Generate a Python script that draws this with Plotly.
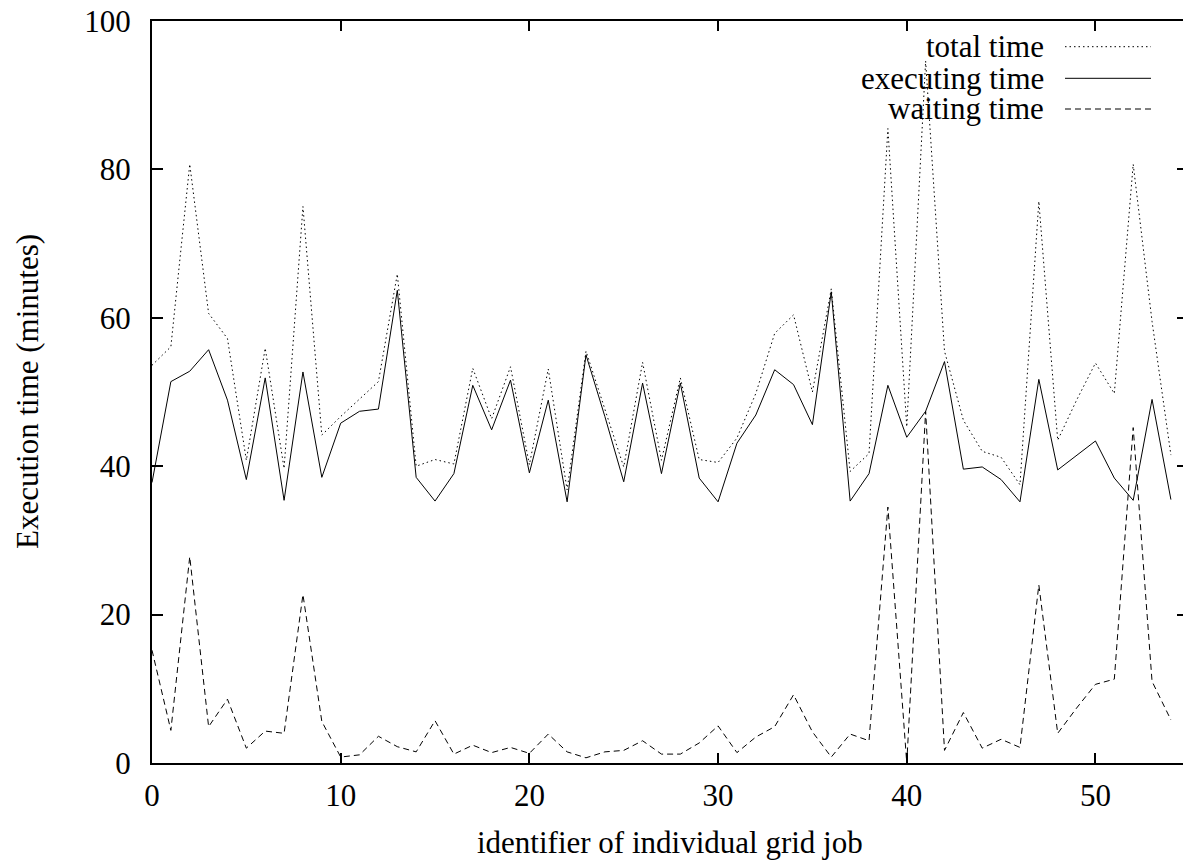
import plotly.graph_objects as go

job_ids = list(range(55))

total_time = [53.6, 56.1, 80.7, 60.6, 57.2, 40.8, 55.9, 39.7, 75.0, 44.2,
              46.7, 49.1, 51.4, 65.9, 40.0, 40.9, 40.3, 53.2, 46.4, 53.4,
              40.2, 53.1, 36.8, 55.5, 47.6, 39.9, 54.0, 40.8, 51.9, 40.9,
              40.5, 43.8, 49.8, 57.9, 60.4, 50.0, 63.9, 39.3, 41.7, 85.5,
              45.3, 94.6, 55.5, 46.2, 42.0, 41.2, 37.5, 75.7, 43.5, 48.9,
              53.9, 49.8, 80.7, 59.5, 41.5]

executing_time = [37.8, 51.4, 52.8, 55.7, 48.9, 38.2, 51.9, 35.4, 52.7, 38.5,
                  45.8, 47.4, 47.7, 63.7, 38.5, 35.3, 39.0, 50.9, 44.9, 51.6,
                  39.1, 48.9, 35.2, 55.0, 46.7, 37.9, 51.2, 39.0, 51.2, 38.4,
                  35.2, 43.1, 46.9, 53.0, 51.0, 45.6, 63.5, 35.3, 39.0, 50.9,
                  43.9, 47.4, 54.1, 39.6, 39.9, 38.2, 35.2, 51.7, 39.5, 41.5,
                  43.4, 38.4, 35.4, 49.0, 35.5]

waiting_time = [15.2, 4.4, 27.8, 4.9, 8.6, 2.0, 4.3, 4.0, 22.7, 5.6,
                0.8, 1.1, 3.6, 2.2, 1.5, 5.7, 1.2, 2.4, 1.4, 2.1,
                1.3, 3.9, 1.5, 0.7, 1.5, 1.7, 3.0, 1.2, 1.2, 2.7,
                5.0, 1.4, 3.5, 4.9, 9.2, 4.2, 0.8, 3.9, 3.0, 34.5,
                0.0, 47.4, 1.7, 6.8, 2.0, 3.2, 2.1, 24.0, 4.0, 7.4,
                10.6, 11.3, 45.2, 11.0, 5.8]

series_names = ["total time", "executing time", "waiting time"]
x_ticks = [0, 10, 20, 30, 40, 50]
y_ticks = [0, 20, 40, 60, 80, 100]

FONT = "Liberation Serif, Times New Roman, serif"
FS = 31
DOT = "1.5px,3px"
DASH = "6px,4px"

FIG_W, FIG_H = 1183, 863
L, T = 152, 21
B_EDGE = 763
R_EDGE = FIG_W
PW, PH = R_EDGE - L, B_EDGE - T

fig = go.Figure()
fig.add_trace(go.Scatter(x=job_ids, y=total_time, mode="lines", name=series_names[0],
                         line=dict(color="black", width=1, dash=DOT), showlegend=False))
fig.add_trace(go.Scatter(x=job_ids, y=executing_time, mode="lines", name=series_names[1],
                         line=dict(color="black", width=1), showlegend=False))
fig.add_trace(go.Scatter(x=job_ids, y=waiting_time, mode="lines", name=series_names[2],
                         line=dict(color="black", width=1, dash=DASH), showlegend=False))
# invisible trace carrying the right-hand tick axis
fig.add_trace(go.Scatter(x=[None], y=[None], yaxis="y2", showlegend=False, hoverinfo="skip"))

x_max = 54.64

fig.update_layout(
    width=FIG_W, height=FIG_H,
    margin=dict(l=L, r=0, t=T, b=FIG_H - B_EDGE, pad=0),
    paper_bgcolor="white", plot_bgcolor="white",
    font=dict(family=FONT, size=FS, color="black"),
    showlegend=False,
    xaxis=dict(range=[0, x_max], tickvals=x_ticks, ticks="inside", ticklen=10,
               tickwidth=2, tickcolor="black", showline=True, linewidth=2,
               linecolor="black", mirror="ticks", showgrid=False, zeroline=False,
               tickfont=dict(family=FONT, size=FS), ticklabelstandoff=4,
               ticklabeloverflow="allow"),
    yaxis=dict(range=[0, 100], tickvals=y_ticks, ticks="inside", ticklen=11,
               tickwidth=2, tickcolor="black", showline=True, linewidth=2,
               linecolor="black", mirror=False, showgrid=False, zeroline=False,
               tickfont=dict(family=FONT, size=FS), ticklabelstandoff=13,
               ticklabeloverflow="allow"),
    yaxis2=dict(range=[0, 100], tickvals=y_ticks, ticks="inside", ticklen=6,
                tickwidth=2, tickcolor="black", showline=False, overlaying="y",
                side="right", showticklabels=False, showgrid=False, zeroline=False),
)

def px(page_x):
    return (page_x - L) / PW
def py(page_y):
    return (B_EDGE - page_y) / PH

annotations = [
    dict(text="identifier of individual grid job", x=px(670), y=py(842),
         xref="paper", yref="paper", showarrow=False, xanchor="center", yanchor="middle",
         font=dict(family=FONT, size=FS)),
    dict(text="Execution time (minutes)", x=px(27), y=py(392),
         xref="paper", yref="paper", showarrow=False, xanchor="center", yanchor="middle",
         textangle=-90, font=dict(family=FONT, size=FS)),
]
legend_rows = [46.7, 78.3, 109.0]
dashes = [DOT, "solid", DASH]
shapes = []
for name, yrow, d in zip(series_names, legend_rows, dashes):
    annotations.append(dict(text=name, x=px(1046), y=py(yrow), xref="paper", yref="paper",
                            showarrow=False, xanchor="right", yanchor="middle",
                            font=dict(family=FONT, size=FS)))
    shapes.append(dict(type="line", xref="paper", yref="paper",
                       x0=px(1065), x1=px(1151), y0=py(yrow), y1=py(yrow),
                       line=dict(color="black", width=1, dash=d)))
fig.update_layout(annotations=annotations, shapes=shapes)

fig.write_html("out.html",
               config={"displayModeBar": False},
               post_script="document.body.style.margin='0px';document.body.style.overflow='hidden';")
